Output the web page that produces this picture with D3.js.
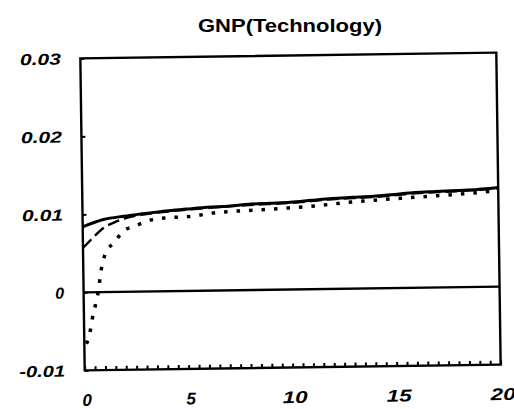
<!DOCTYPE html>
<html><head><meta charset="utf-8">
<script src="https://cdn.jsdelivr.net/npm/d3@7"></script>
<style>body{margin:0;background:#fff}</style>
</head><body>
<svg id="c" width="514" height="409"></svg>
<script>
const title = "GNP(Technology)";
const xTicks = [0, 5, 10, 15, 20];
const yTicks = [-0.01, 0, 0.01, 0.02, 0.03];
const yTickLabels = ["-0.01", "0", "0.01", "0.02", "0.03"];

const solidT = [0, 1, 2, 3, 4, 5, 6, 7, 8, 9, 10, 11, 12, 13, 14, 15, 16, 17, 18, 19, 20];
const solidV = [0.0084, 0.0093, 0.0097, 0.0100, 0.0103, 0.0105, 0.0107, 0.0108, 0.0110, 0.0111, 0.0112, 0.0114, 0.0116, 0.0117, 0.0118, 0.0120, 0.0122, 0.0123, 0.0124, 0.0125, 0.0127];
const dashT = [0, 0.3, 0.6, 1.1, 1.5, 2, 3, 4, 5, 6, 8, 10, 12, 14, 16, 18, 20];
const dashV = [0.0057, 0.0065, 0.0073, 0.0084, 0.0089, 0.0094, 0.0099, 0.0102, 0.0104, 0.0106, 0.0109, 0.0111, 0.0115, 0.0117, 0.0121, 0.0123, 0.0126];
const dotT = [0.1, 0.25, 0.4, 0.6, 0.7, 0.85, 1.1, 1.5, 1.95, 2.5, 3.2, 3.95, 4.8, 5.4, 6.1, 7, 8, 9.5, 11.3, 12.5, 14, 16, 18, 20];
const dotV = [-0.0066, -0.0055, -0.0034, -0.0012, 0.0, 0.0027, 0.0051, 0.0063, 0.0078, 0.0084, 0.0091, 0.0094, 0.0095, 0.0096, 0.0099, 0.0101, 0.0102, 0.0104, 0.0107, 0.0110, 0.0113, 0.0116, 0.0119, 0.0123];

const svg = d3.select("#c");
const m = {l: 82.5, r: 498.5, t: 55.5, b: 367.5};
const x = d3.scaleLinear().domain([0, 20]).range([m.l, m.r]);
const y = d3.scaleLinear().domain([-0.01, 0.03]).range([m.b, m.t]);
const font = "Liberation Sans, Arial, sans-serif";

svg.append("text").attr("x", 290).attr("y", 32).attr("text-anchor", "middle")
  .attr("font-family", font).attr("font-weight", "bold")
  .attr("font-size", 19).attr("textLength", 184).attr("lengthAdjust", "spacingAndGlyphs").text(title);

// whole plot slightly rotated, as in the scanned original
const g = svg.append("g").attr("transform", "rotate(-0.8, 290.5, 211.5)");

g.append("rect").attr("x", m.l).attr("y", m.t).attr("width", m.r - m.l).attr("height", m.b - m.t)
  .attr("fill", "none").attr("stroke", "#000").attr("stroke-width", 2.4);

const yAx = g.append("g").attr("transform", `translate(${m.l},0)`)
  .call(d3.axisRight(y).tickValues(yTicks).tickSize(4).tickFormat(""));
yAx.select(".domain").remove();
yAx.selectAll("line").attr("stroke-width", 2);
g.selectAll(".ylab").data(yTicks).enter().append("text")
  .attr("x", 63).attr("y", d => y(d) + 6).attr("text-anchor", "end")
  .attr("font-family", font).attr("font-weight", "bold").attr("font-style", "italic")
  .attr("font-size", 16)
  .each(function(d, i) {
    const s = yTickLabels[i];
    const el = d3.select(this).text(s);
    if (s.length === 4) el.attr("textLength", 41).attr("lengthAdjust", "spacingAndGlyphs");
    if (s.length === 5) el.attr("textLength", 46).attr("lengthAdjust", "spacingAndGlyphs");
  });

const minor = d3.range(0, 20.01, 0.5);
const xAx = g.append("g").attr("transform", `translate(0,${m.b})`)
  .call(d3.axisTop(x).tickValues(minor).tickSize(4).tickFormat(""));
xAx.select(".domain").remove();
xAx.selectAll("line").attr("stroke-width", 2);
g.selectAll(".xlab").data(xTicks).enter().append("text")
  .attr("x", d => x(d) + 2).attr("y", 403).attr("text-anchor", "middle")
  .attr("font-family", font).attr("font-weight", "bold").attr("font-style", "italic")
  .attr("font-size", 17)
  .each(function(d) {
    const el = d3.select(this).text(d);
    if (String(d).length === 2) el.attr("textLength", 25).attr("lengthAdjust", "spacingAndGlyphs");
  });

g.append("line").attr("x1", x(0)).attr("x2", x(20)).attr("y1", y(0)).attr("y2", y(0))
  .attr("stroke", "#000").attr("stroke-width", 2.4);

const line = d3.line().x(d => x(d[0])).y(d => y(d[1])).curve(d3.curveMonotoneX);
const mk = (T, V) => T.map((t, i) => [t, V[i]]);

g.append("path").datum(mk(dotT, dotV)).attr("d", line).attr("fill", "none")
  .attr("stroke", "#000").attr("stroke-width", 3.5)
  .attr("stroke-dasharray", "3.5 9");
g.append("path").datum(mk(dashT, dashV)).attr("d", line).attr("fill", "none")
  .attr("stroke", "#000").attr("stroke-width", 2.4).attr("stroke-dasharray", "12 5");
g.append("path").datum(mk(solidT, solidV)).attr("d", line).attr("fill", "none")
  .attr("stroke", "#000").attr("stroke-width", 3);
</script>
</body></html>
